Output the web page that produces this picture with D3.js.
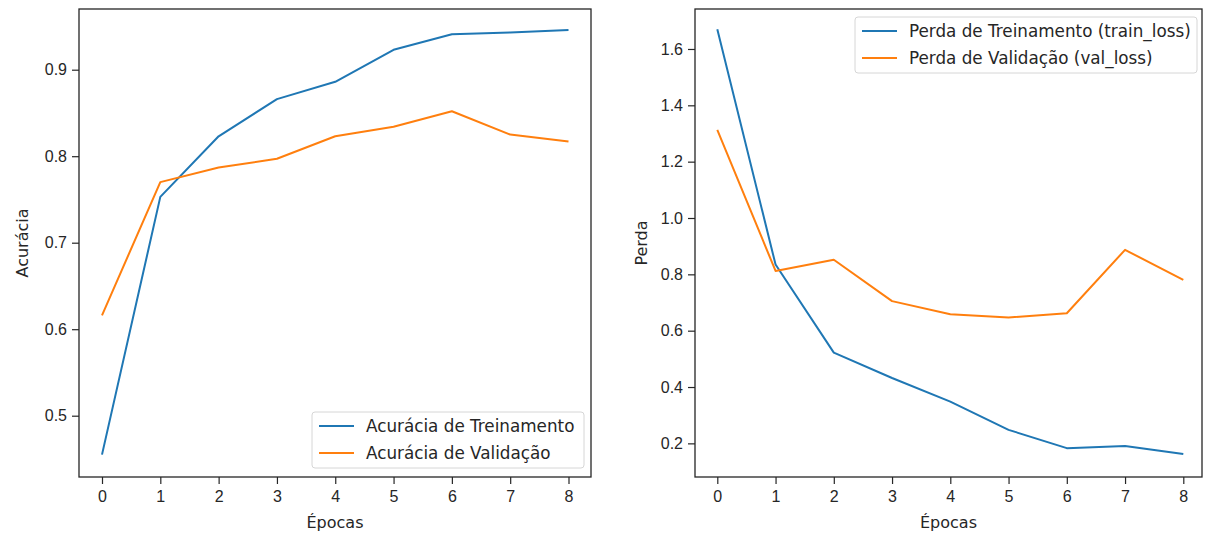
<!DOCTYPE html>
<html lang="pt">
  <head>
  <meta charset="utf-8"/>
    <script type="text/javascript" src="https://cdnjs.cloudflare.com/ajax/libs/d3/7.8.5/d3.min.js"></script>
    <style>
      body { margin: 0; background: #fff; }
      svg { display: block; font-family: "DejaVu Sans", sans-serif; }
      .tick text { font-size: 16px; fill: #262626; }
      .tick line { stroke: #262626; stroke-width: 1.2; }
    </style>
  </head>
  <body>
<svg class="fillmeup"></svg>
    <script type="text/javascript">

// epochs on the x axis
var epochs = [0, 1, 2, 3, 4, 5, 6, 7, 8];
// accuracy per epoch
var trainAcc = [0.455, 0.753, 0.823, 0.866, 0.886, 0.923, 0.941, 0.943, 0.946];
var valAcc = [0.616, 0.770, 0.787, 0.797, 0.823, 0.834, 0.852, 0.825, 0.817];
// loss per epoch
var trainLoss = [1.670, 0.835, 0.522, 0.432, 0.348, 0.248, 0.183, 0.191, 0.162];
var valLoss = [1.313, 0.812, 0.852, 0.705, 0.658, 0.647, 0.662, 0.887, 0.780];
// tick labels
var accTicks = [0.5, 0.6, 0.7, 0.8, 0.9];
var lossTicks = [0.2, 0.4, 0.6, 0.8, 1.0, 1.2, 1.4, 1.6];

var width = 1205;
var height = 534;
var blue = "#1f77b4";
var orange = "#ff7f0e";

var chart = d3.select('.fillmeup')
  .attr("width", width)
  .attr("height", height);

// one panel = frame, axes, two lines, legend
function panel(opt) {
  var x = d3.scaleLinear().domain([0, 8]).range(opt.xr);
  var y = d3.scaleLinear().domain(opt.yd).range([opt.bottom, opt.top]);
  var g = chart.append('g');

  var line = d3.line()
    .x(function(d, i) { return x(epochs[i]); })
    .y(function(d) { return y(d); });

  opt.series.forEach(function(s) {
    g.append('path')
      .attr('d', line(s.values))
      .attr('fill', 'none')
      .attr('stroke', s.color)
      .attr('stroke-width', 2)
      .attr('stroke-linejoin', 'round');
  });

  var xAxis = g.append('g')
    .attr('transform', 'translate(0,' + opt.bottom + ')')
    .call(d3.axisBottom(x).tickValues(epochs).tickFormat(d3.format('d')).tickSize(7).tickPadding(7));
  var yAxis = g.append('g')
    .attr('transform', 'translate(' + opt.left + ',0)')
    .call(d3.axisLeft(y).tickValues(opt.ticks).tickFormat(d3.format('.1f')).tickSize(7).tickPadding(5));
  xAxis.select('.domain').remove();
  yAxis.select('.domain').remove();

  // frame of the axes
  g.append('rect')
    .attr('x', opt.left)
    .attr('y', opt.top)
    .attr('width', opt.right - opt.left)
    .attr('height', opt.bottom - opt.top)
    .attr('fill', 'none')
    .attr('stroke', '#262626')
    .attr('stroke-width', 1.3);

  g.append('text')
    .attr('x', (opt.left + opt.right) / 2)
    .attr('y', 522)
    .attr('text-anchor', 'middle')
    .attr('dominant-baseline', 'central')
    .attr('font-size', 16)
    .attr('fill', '#262626')
    .text('Épocas');

  g.append('text')
    .attr('transform', 'translate(' + opt.ylabelX + ',' + ((opt.top + opt.bottom) / 2) + ') rotate(-90)')
    .attr('text-anchor', 'middle')
    .attr('dominant-baseline', 'central')
    .attr('font-size', 16)
    .attr('fill', '#262626')
    .text(opt.ylabel);

  // legend
  var lg = g.append('g').attr('transform', 'translate(' + opt.legend[0] + ',' + opt.legend[1] + ')');
  lg.append('rect')
    .attr('width', opt.legend[2])
    .attr('height', 56)
    .attr('rx', 3)
    .attr('fill', '#fff')
    .attr('fill-opacity', 0.8)
    .attr('stroke', '#d6d6d6');
  var rows = lg.selectAll('g.row')
    .data(opt.series)
    .enter()
    .append('g')
    .attr('class', 'row')
    .attr('transform', function(d, i) { return 'translate(0,' + (14 + i * 27) + ')'; });
  rows.append('line')
    .attr('x1', 7).attr('x2', 42)
    .attr('stroke', function(d) { return d.color; })
    .attr('stroke-width', 2);
  rows.append('text')
    .attr('x', 54)
    .attr('dominant-baseline', 'central')
    .attr('font-size', 16.8)
    .attr('fill', '#262626')
    .text(function(d) { return d.name; });
}

panel({
  left: 79, right: 591, top: 9, bottom: 477,
  xr: [102, 568.5],
  yd: [0.5 - (477 - 415.7) / 865, 0.5 + (415.7 - 9) / 865],
  ticks: accTicks,
  ylabel: 'Acurácia', ylabelX: 22,
  legend: [312, 412, 272],
  series: [
    { name: 'Acurácia de Treinamento', values: trainAcc, color: blue },
    { name: 'Acurácia de Validação', values: valAcc, color: orange }
  ]
});

panel({
  left: 695, right: 1202, top: 9, bottom: 477,
  xr: [717.3, 1183.3],
  yd: [1.0 - (477 - 218) / 281.7, 1.0 + (218 - 9) / 281.7],
  ticks: lossTicks,
  ylabel: 'Perda', ylabelX: 641,
  legend: [855, 17, 342],
  series: [
    { name: 'Perda de Treinamento (train_loss)', values: trainLoss, color: blue },
    { name: 'Perda de Validação (val_loss)', values: valLoss, color: orange }
  ]
});
    </script>
  </body>
</html>
